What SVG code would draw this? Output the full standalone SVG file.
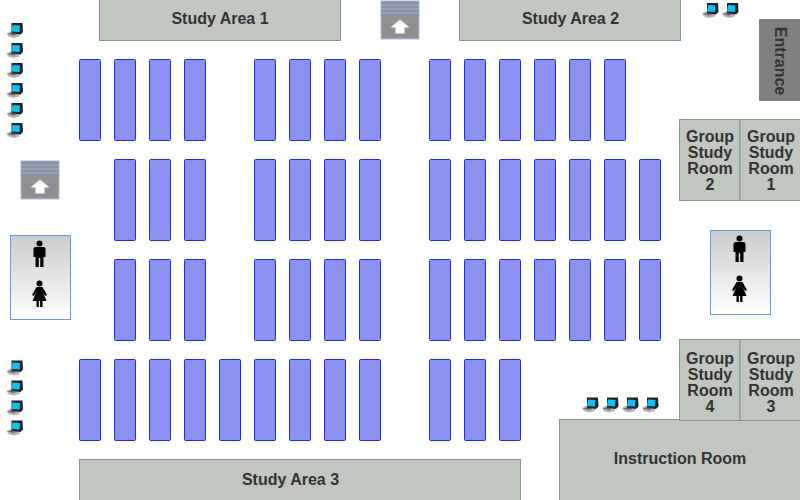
<svg xmlns="http://www.w3.org/2000/svg" xmlns:xlink="http://www.w3.org/1999/xlink" width="800" height="500" viewBox="0 0 800 500">
<style>
.rack{fill:#8c91f0;stroke:#1a2ef0;stroke-width:1}
.room{fill:#c1c6c0;stroke:#7f9a7f;stroke-width:1}
.lbl{font-family:"Liberation Sans",Arial,sans-serif;font-weight:bold;font-size:16px;fill:#333;text-anchor:middle}
.wc{fill:url(#wcg);stroke:#5b9cf0;stroke-width:1}
</style>
<defs>
<filter id="soft" x="-20%" y="-20%" width="140%" height="140%"><feGaussianBlur stdDeviation="0.35"/></filter>
<linearGradient id="wcg" x1="0" y1="0" x2="0" y2="1"><stop offset="0" stop-color="#cbcbcb"/><stop offset="1" stop-color="#fff"/></linearGradient>
<g id="pc" filter="url(#soft)">
<path d="M0 11 L6 8 L13 9 L13 14 L7 15.500 L2 14 Z" fill="#b4b4b4"/>
<path d="M1 11.500 L6 10 L11 11.500 L7 13 Z" fill="#666"/>
<path d="M5 0.500 L16 0.500 L16.500 9.500 L14 12 L5 10.500 Z" fill="#222"/>
<path d="M6 2.500 L13.500 3 L13 9.500 L5 9 Z" fill="#0fc0fa"/>
</g>
<g id="man" fill="#000" filter="url(#soft)">
<circle cx="0" cy="2.500" r="3"/>
<path d="M-6 8 Q-6 6 -4 6 L4 6 Q6 6 6 8 L6 16 L4 16 L4 26 L0.700 26 L0.700 17 L-0.700 17 L-0.700 26 L-4 26 L-4 16 L-6 16 Z"/>
</g>
<g id="woman" fill="#000" filter="url(#soft)">
<circle cx="0" cy="2.500" r="3"/>
<path d="M-3 6 L3 6 L7.500 14 L5.800 15 L3.500 11.500 L7 20 L3 20 L3 26 L0.600 26 L0.600 20 L-0.600 20 L-0.600 26 L-3 26 L-3 20 L-7 20 L-3.500 11.500 L-5.800 15 L-7.500 14 Z"/>
</g>
<g id="stairs">
<rect x="0.500" y="0.500" width="38" height="38" fill="#909090" stroke="#a9c0e6"/>
<rect x="1" y="1" width="37" height="16" fill="#8a90a0"/>
<path d="M1 4.500H38M1 8.500H38M1 12.500H38" stroke="#9fb4d8" stroke-width="1"/>
<path d="M19.500 19 L29 27 L24 27 L24 33 L15 33 L15 27 L10 27 Z" fill="#fff"/>
</g>
</defs>
<g id="stacks">
<g id="row1">
<rect class="rack" x="79.500" y="59.500" width="21" height="81" rx="1"/><rect class="rack" x="114.500" y="59.500" width="21" height="81" rx="1"/><rect class="rack" x="149.500" y="59.500" width="21" height="81" rx="1"/><rect class="rack" x="184.500" y="59.500" width="21" height="81" rx="1"/>
<rect class="rack" x="254.500" y="59.500" width="21" height="81" rx="1"/><rect class="rack" x="289.500" y="59.500" width="21" height="81" rx="1"/><rect class="rack" x="324.500" y="59.500" width="21" height="81" rx="1"/><rect class="rack" x="359.500" y="59.500" width="21" height="81" rx="1"/>
<rect class="rack" x="429.500" y="59.500" width="21" height="81" rx="1"/><rect class="rack" x="464.500" y="59.500" width="21" height="81" rx="1"/><rect class="rack" x="499.500" y="59.500" width="21" height="81" rx="1"/><rect class="rack" x="534.500" y="59.500" width="21" height="81" rx="1"/><rect class="rack" x="569.500" y="59.500" width="21" height="81" rx="1"/><rect class="rack" x="604.500" y="59.500" width="21" height="81" rx="1"/>
</g>
<g id="row2">
<rect class="rack" x="114.500" y="159.500" width="21" height="81" rx="1"/><rect class="rack" x="149.500" y="159.500" width="21" height="81" rx="1"/><rect class="rack" x="184.500" y="159.500" width="21" height="81" rx="1"/>
<rect class="rack" x="254.500" y="159.500" width="21" height="81" rx="1"/><rect class="rack" x="289.500" y="159.500" width="21" height="81" rx="1"/><rect class="rack" x="324.500" y="159.500" width="21" height="81" rx="1"/><rect class="rack" x="359.500" y="159.500" width="21" height="81" rx="1"/>
<rect class="rack" x="429.500" y="159.500" width="21" height="81" rx="1"/><rect class="rack" x="464.500" y="159.500" width="21" height="81" rx="1"/><rect class="rack" x="499.500" y="159.500" width="21" height="81" rx="1"/><rect class="rack" x="534.500" y="159.500" width="21" height="81" rx="1"/><rect class="rack" x="569.500" y="159.500" width="21" height="81" rx="1"/><rect class="rack" x="604.500" y="159.500" width="21" height="81" rx="1"/><rect class="rack" x="639.500" y="159.500" width="21" height="81" rx="1"/>
</g>
<g id="row3">
<rect class="rack" x="114.500" y="259.500" width="21" height="81" rx="1"/><rect class="rack" x="149.500" y="259.500" width="21" height="81" rx="1"/><rect class="rack" x="184.500" y="259.500" width="21" height="81" rx="1"/>
<rect class="rack" x="254.500" y="259.500" width="21" height="81" rx="1"/><rect class="rack" x="289.500" y="259.500" width="21" height="81" rx="1"/><rect class="rack" x="324.500" y="259.500" width="21" height="81" rx="1"/><rect class="rack" x="359.500" y="259.500" width="21" height="81" rx="1"/>
<rect class="rack" x="429.500" y="259.500" width="21" height="81" rx="1"/><rect class="rack" x="464.500" y="259.500" width="21" height="81" rx="1"/><rect class="rack" x="499.500" y="259.500" width="21" height="81" rx="1"/><rect class="rack" x="534.500" y="259.500" width="21" height="81" rx="1"/><rect class="rack" x="569.500" y="259.500" width="21" height="81" rx="1"/><rect class="rack" x="604.500" y="259.500" width="21" height="81" rx="1"/><rect class="rack" x="639.500" y="259.500" width="21" height="81" rx="1"/>
</g>
<g id="row4">
<rect class="rack" x="79.500" y="359.500" width="21" height="81" rx="1"/><rect class="rack" x="114.500" y="359.500" width="21" height="81" rx="1"/><rect class="rack" x="149.500" y="359.500" width="21" height="81" rx="1"/><rect class="rack" x="184.500" y="359.500" width="21" height="81" rx="1"/><rect class="rack" x="219.500" y="359.500" width="21" height="81" rx="1"/>
<rect class="rack" x="254.500" y="359.500" width="21" height="81" rx="1"/><rect class="rack" x="289.500" y="359.500" width="21" height="81" rx="1"/><rect class="rack" x="324.500" y="359.500" width="21" height="81" rx="1"/><rect class="rack" x="359.500" y="359.500" width="21" height="81" rx="1"/>
<rect class="rack" x="429.500" y="359.500" width="21" height="81" rx="1"/><rect class="rack" x="464.500" y="359.500" width="21" height="81" rx="1"/><rect class="rack" x="499.500" y="359.500" width="21" height="81" rx="1"/>
</g>
</g>
<g id="study-area-1"><rect class="room" x="99.500" y="-2" width="241" height="42.500"/><text class="lbl" x="220" y="24">Study Area 1</text></g>
<g id="study-area-2"><rect class="room" x="459.500" y="-2" width="221" height="42.500"/><text class="lbl" x="570.500" y="24">Study Area 2</text></g>
<g id="study-area-3"><rect class="room" x="79.500" y="459.500" width="441" height="42"/><text class="lbl" x="290.500" y="485">Study Area 3</text></g>
<g id="instruction-room"><rect class="room" x="559.500" y="419.500" width="242" height="82"/><text class="lbl" x="680" y="464">Instruction Room</text></g>
<g id="entrance"><rect x="759" y="19" width="42" height="82" fill="#808080" rx="1"/><text class="lbl" transform="translate(775,61) rotate(90)">Entrance</text></g>
<g id="group-room-2"><rect class="room" x="679.500" y="119.500" width="60.500" height="81"/><text class="lbl"><tspan x="710" y="142">Group</tspan><tspan x="710" y="158">Study</tspan><tspan x="710" y="174">Room</tspan><tspan x="710" y="190">2</tspan></text></g>
<g id="group-room-1"><rect class="room" x="740" y="119.500" width="61" height="81"/><text class="lbl"><tspan x="771" y="142">Group</tspan><tspan x="771" y="158">Study</tspan><tspan x="771" y="174">Room</tspan><tspan x="771" y="190">1</tspan></text></g>
<g id="group-room-4"><rect class="room" x="679.500" y="339.500" width="60.500" height="81"/><text class="lbl"><tspan x="710" y="364">Group</tspan><tspan x="710" y="380">Study</tspan><tspan x="710" y="396">Room</tspan><tspan x="710" y="412">4</tspan></text></g>
<g id="group-room-3"><rect class="room" x="740" y="339.500" width="61" height="81"/><text class="lbl"><tspan x="771" y="364">Group</tspan><tspan x="771" y="380">Study</tspan><tspan x="771" y="396">Room</tspan><tspan x="771" y="412">3</tspan></text></g>
<g id="stairs-top"><use xlink:href="#stairs" href="#stairs" x="380.500" y="0.500"/></g>
<g id="stairs-left"><use xlink:href="#stairs" href="#stairs" x="20.500" y="160.500"/></g>
<g id="restroom-left"><rect class="wc" x="10.500" y="235.500" width="60" height="84"/><use href="#man" x="39.500" y="241"/><use href="#woman" x="39.500" y="281"/></g>
<g id="restroom-right"><rect class="wc" x="710.500" y="230.500" width="60" height="84"/><use href="#man" x="739.500" y="236"/><use href="#woman" x="739.500" y="276"/></g>
<g id="computers">
<use href="#pc" x="6.500" y="22.500"/><use href="#pc" x="6.500" y="42.500"/><use href="#pc" x="6.500" y="62.500"/><use href="#pc" x="6.500" y="82.500"/><use href="#pc" x="6.500" y="102.500"/><use href="#pc" x="6.500" y="122.500"/>
<use href="#pc" x="6.500" y="360"/><use href="#pc" x="6.500" y="380"/><use href="#pc" x="6.500" y="400"/><use href="#pc" x="6.500" y="420"/>
<use href="#pc" x="702" y="2.500"/><use href="#pc" x="722" y="2.500"/>
<use href="#pc" x="582" y="397"/><use href="#pc" x="602" y="397"/><use href="#pc" x="622" y="397"/><use href="#pc" x="642" y="397"/>
</g>
</svg>
